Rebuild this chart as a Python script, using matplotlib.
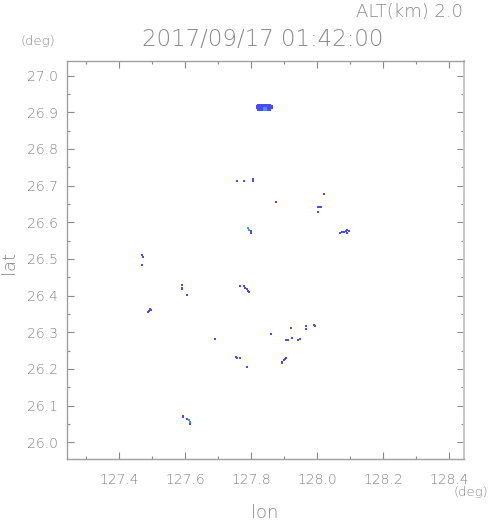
import matplotlib
matplotlib.use("Agg")
import matplotlib.pyplot as plt
from matplotlib.ticker import MultipleLocator, FormatStrFormatter

# ---- data (echo cells at ALT 2.0 km) ----
blue_lon = [
    127.820, 127.826, 127.832, 127.838, 127.844, 127.850, 127.856,
    127.816, 127.822, 127.828, 127.834, 127.840, 127.846, 127.852, 127.858, 127.862,
    127.816, 127.822, 127.828, 127.834, 127.852, 127.858, 127.862,
    127.820, 127.826, 127.832, 127.852, 127.858,
    127.757, 127.778, 127.805, 127.805,
    127.875, 128.020, 128.002, 128.008, 128.012, 128.001,
    127.798, 127.800,
    128.068, 128.074, 128.080, 128.086, 128.090, 128.096, 128.090,
    127.470, 127.471, 127.470,
    127.590, 127.591, 127.589, 127.605,
    127.493, 127.491, 127.487, 127.497,
    127.767, 127.778, 127.782, 127.786, 127.790, 127.793,
    127.691, 127.754, 127.757, 127.766, 127.786,
    127.892, 127.894, 127.898, 127.903, 127.904,
    127.861, 127.921, 127.906, 127.910, 127.923,
    127.942, 127.947, 127.965, 127.967, 127.990, 127.994,
    127.592, 127.594, 127.604, 127.614,
]
blue_lat = [
    26.921, 26.921, 26.921, 26.921, 26.921, 26.921, 26.921,
    26.916, 26.916, 26.916, 26.916, 26.916, 26.916, 26.916, 26.916, 26.916,
    26.911, 26.911, 26.911, 26.911, 26.911, 26.911, 26.911,
    26.907, 26.907, 26.907, 26.907, 26.907,
    26.713, 26.713, 26.713, 26.717,
    26.654, 26.678, 26.642, 26.643, 26.642, 26.628,
    26.575, 26.571,
    26.572, 26.574, 26.574, 26.576, 26.578, 26.576, 26.571,
    26.511, 26.505, 26.484,
    26.428, 26.422, 26.417, 26.402,
    26.364, 26.358, 26.354, 26.360,
    26.425, 26.425, 26.421, 26.417, 26.413, 26.409,
    26.282, 26.233, 26.230, 26.230, 26.205,
    26.215, 26.220, 26.224, 26.227, 26.231,
    26.294, 26.311, 26.278, 26.280, 26.285,
    26.279, 26.281, 26.316, 26.308, 26.320, 26.318,
    26.072, 26.069, 26.064, 26.050,
]
cyan_lon = [127.840, 127.846, 127.840, 127.846, 127.789, 127.794, 127.612, 127.613]
cyan_lat = [26.911, 26.911, 26.907, 26.907, 26.584, 26.580, 26.060, 26.056]

x_ticks = [127.4, 127.6, 127.8, 128.0, 128.2, 128.4]
y_ticks = [26.0, 26.1, 26.2, 26.3, 26.4, 26.5, 26.6, 26.7, 26.8, 26.9, 27.0]
title_text = "2017/09/17 01:42:00"
alt_text = "ALT(km) 2.0"

# ---- figure ----
W, H = 491, 521
fig = plt.figure(figsize=(W / 100, H / 100), dpi=100)
ax = fig.add_axes([66.5 / W, (H - 458.7) / H, (464 - 66.5) / W, (458.7 - 61) / H])

ax.scatter(blue_lon, blue_lat, marker="s", s=3.2, c="#4b4bf5", linewidths=0)
ax.scatter(cyan_lon, cyan_lat, marker="s", s=3.2, c="#3c9bff", linewidths=0)

ax.set_xlim(127.24, 128.445)
ax.set_ylim(25.955, 27.04)
ax.set_xticks(x_ticks)
ax.set_yticks(y_ticks)
ax.xaxis.set_major_formatter(FormatStrFormatter("%.1f"))
ax.yaxis.set_major_formatter(FormatStrFormatter("%.1f"))
ax.xaxis.set_minor_locator(MultipleLocator(0.1))
ax.yaxis.set_minor_locator(MultipleLocator(0.05))

grey = "#8a8a8a"
for s in ax.spines.values():
    s.set_color("#a0a0a0")
    s.set_linewidth(1.0)
ax.spines["right"].set_color("#c8c8c8")
ax.spines["right"].set_linewidth(1.5)

ax.tick_params(which="both", direction="in", top=True, right=True, color=grey,
               labelcolor="#808080", labelsize=10, width=0.8)
ax.tick_params(which="major", length=5.0, pad=10)
ax.tick_params(axis="y", which="major", pad=6)
ax.tick_params(which="minor", length=2.5)
for lbl in ax.get_xticklabels() + ax.get_yticklabels():
    lbl.set_fontweight("light")

txt = dict(color="#888888", fontweight="light")
fig.text(265 / W, 1 - 513 / H, "lon", fontsize=13, ha="center", va="center", **txt)
fig.text(9 / W, 1 - 262 / H, "lat", fontsize=13, ha="center", va="center",
         rotation=90, **txt)
fig.text(263 / W, 1 - 40 / H, title_text, fontsize=16.5, ha="center",
         va="center", **txt)
fig.text(463 / W, 1 - 12 / H, alt_text, fontsize=13, ha="right", va="center", **txt)
fig.text(38 / W, 1 - 41 / H, "(deg)", fontsize=9.5, ha="center", va="center", **txt)
fig.text(471 / W, 1 - 492 / H, "(deg)", fontsize=9.5, ha="center", va="center", **txt)

fig.savefig("out.png", dpi=100, facecolor="white")
